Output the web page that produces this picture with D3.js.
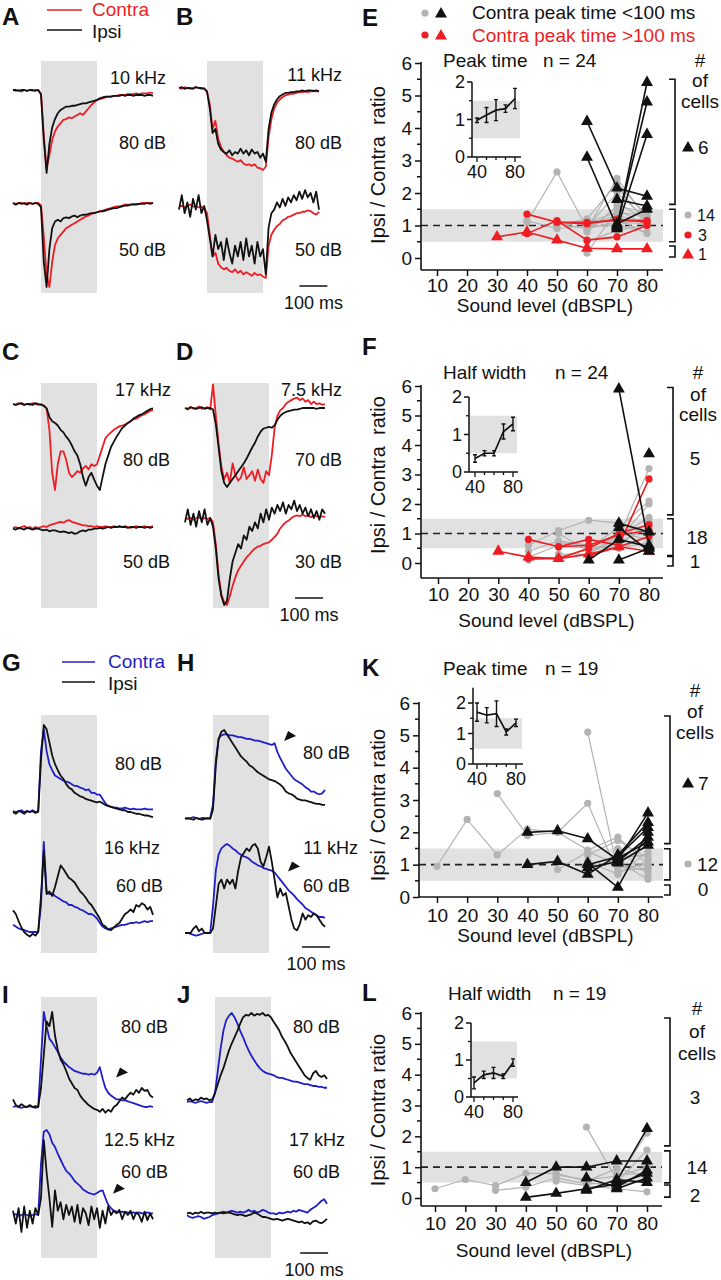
<!DOCTYPE html>
<html><head><meta charset="utf-8">
<script src="https://cdnjs.cloudflare.com/ajax/libs/d3/7.8.5/d3.min.js"></script>
<style>body{margin:0;background:#fff}svg{display:block}text{font-family:"Liberation Sans",Arial,sans-serif;fill:#111}</style>
</head><body><script>
// ---------- TRACE DATA (normalized deflection, 10 ms samples from -100 ms to 400 ms) ----------
const A80_contra=[0,0.01,0,0.02,0,0.01,0,0.01,0,0, 0.05,0.55,0.95,0.78,0.6,0.5,0.44,0.4,0.36,0.35,0.33,0.34,0.32,0.3,0.28,0.3,0.26,0.22,0.18,0.15,0.12,0.11,0.1,0.09,0.08,0.08,0.07,0.07,0.06,0.06,0.06,0.05,0.05,0.05,0.04,0.05,0.04,0.04,0.04,0.03,0.04];
const A80_ipsi=[0,0,0.01,0,0,0.01,0,0,0.01,0, 0.05,0.6,1.0,0.65,0.45,0.35,0.28,0.24,0.22,0.2,0.2,0.19,0.19,0.18,0.17,0.16,0.16,0.15,0.14,0.13,0.12,0.1,0.09,0.08,0.08,0.08,0.07,0.07,0.07,0.06,0.07,0.06,0.06,0.07,0.06,0.06,0.06,0.07,0.06,0.06,0.07];
const A50_contra=[0,0.01,0,0,0.01,0,0,0.01,0,0, 0.03,0.4,0.85,1.0,0.7,0.5,0.42,0.38,0.34,0.3,0.28,0.26,0.24,0.22,0.2,0.18,0.16,0.15,0.13,0.12,0.11,0.1,0.09,0.08,0.07,0.06,0.05,0.04,0.04,0.03,0.02,0.02,0.02,0.01,0.01,0.01,0,0,0,0,0];
const A50_ipsi=[0,0.02,0,0.01,0,0.02,0,0.01,0,0.01, 0.05,0.7,1.0,0.55,0.3,0.22,0.2,0.22,0.18,0.17,0.18,0.16,0.15,0.17,0.15,0.14,0.14,0.13,0.12,0.12,0.11,0.1,0.1,0.09,0.08,0.07,0.06,0.06,0.05,0.04,0.03,0.03,0.02,0.02,0.02,0.01,0.01,0.01,0,0.01,0];
const B80_contra=[0,0.01,-0.01,0,0.01,0,-0.01,0,0.01,0, 0.05,0.2,0.5,0.4,0.62,0.72,0.78,0.82,0.85,0.86,0.88,0.9,0.88,0.92,0.94,0.93,0.95,0.93,0.97,0.98,1.0,0.96,0.6,0.38,0.25,0.18,0.14,0.11,0.09,0.08,0.07,0.07,0.06,0.05,0.05,0.04,0.05,0.04,0.03,0.04,0.04];
const B80_ipsi=[0,-0.01,0.01,0,0,0.01,-0.01,0,0,0.01, 0.04,0.25,0.55,0.5,0.68,0.75,0.78,0.8,0.76,0.82,0.78,0.8,0.74,0.8,0.76,0.82,0.75,0.8,0.78,0.85,0.8,0.9,0.5,0.3,0.2,0.14,0.1,0.08,0.06,0.06,0.05,0.05,0.04,0.04,0.03,0.04,0.03,0.03,0.04,0.03,0.04];
const B50_contra=[0,0,0.02,0,-0.02,0.01,0,0.02,0.01,0.03, 0.1,0.4,0.7,0.65,0.8,0.85,0.88,0.86,0.9,0.92,0.88,0.93,0.9,0.95,0.92,0.94,0.97,0.93,0.96,0.95,0.98,1.0,0.55,0.4,0.33,0.28,0.25,0.2,0.18,0.15,0.14,0.12,0.1,0.1,0.08,0.08,0.06,0.07,0.1,0.12,0.08];
const B50_ipsi=[0.05,-0.15,0.1,-0.05,0.15,-0.1,0.05,-0.15,0.1,0, 0.2,0.45,0.7,0.4,0.6,0.5,0.75,0.45,0.65,0.8,0.55,0.7,0.5,0.75,0.45,0.7,0.55,0.8,0.5,0.7,0.6,0.95,0.3,0.1,0.05,-0.05,0.02,-0.1,0,-0.12,-0.05,-0.15,-0.08,-0.2,-0.1,-0.22,-0.12,-0.18,-0.05,-0.2,0.05];
const C80_contra=[0,0.01,-0.01,0,0.01,0,0.01,-0.01,0,0.01, 0,0.02,0.05,0.3,0.8,1.0,0.7,0.55,0.55,0.65,0.8,0.85,0.82,0.78,0.8,0.75,0.72,0.76,0.7,0.72,0.7,0.6,0.5,0.4,0.36,0.33,0.3,0.28,0.26,0.25,0.24,0.22,0.2,0.18,0.17,0.15,0.13,0.12,0.1,0.08,0.07];
const C80_ipsi=[0,0.01,0,-0.01,0.01,0,0,0.01,-0.01,0, 0.01,0.02,0.05,0.15,0.2,0.22,0.25,0.3,0.33,0.38,0.42,0.48,0.55,0.6,0.7,0.85,0.95,0.85,0.8,0.88,0.95,1.0,0.85,0.7,0.6,0.5,0.44,0.38,0.33,0.28,0.25,0.22,0.2,0.17,0.15,0.13,0.12,0.1,0.08,0.06,0.05];
const C50_contra=[0.01,0,0.02,0,-0.01,0.01,0,0.02,0,0.01, 0,-0.01,0,-0.02,-0.03,-0.04,-0.05,-0.06,-0.05,-0.07,-0.08,-0.06,-0.05,-0.04,-0.03,-0.02,-0.02,-0.01,-0.01,0,-0.01,0,0,-0.01,0,0,-0.01,0,0,0,-0.01,0,0.01,0,-0.01,0,0,-0.01,0,0,-0.01];
const C50_ipsi=[0.02,0.03,0.01,0.02,0.03,0.01,0.02,0.03,0.02,0.02, 0.03,0.04,0.03,0.05,0.04,0.04,0.05,0.06,0.05,0.06,0.07,0.06,0.08,0.07,0.05,0.04,0.05,0.03,0.03,0.02,0.02,0.01,0.02,0.01,0,0.01,0,0,-0.01,0,0,0.01,0,0,0.01,0,0,0.01,0,0.01,0];
const D70_contra=[0,0.02,-0.01,0.01,0,-0.02,0.01,0,-0.01,0.02, -0.3,0.1,0.45,0.75,0.9,0.82,0.95,0.7,0.85,0.92,0.88,0.75,0.9,0.85,0.8,0.92,0.78,0.9,0.95,0.8,0.85,0.6,0.25,0.1,0.03,0,-0.05,-0.08,-0.1,-0.12,-0.13,-0.1,-0.12,-0.08,-0.1,-0.05,-0.08,-0.05,-0.06,-0.04,-0.05];
const D70_ipsi=[0,0.01,-0.01,0,0.01,0,-0.01,0.01,0,0, 0.02,0.2,0.5,0.8,0.95,1.0,0.95,0.9,0.85,0.8,0.75,0.7,0.64,0.57,0.5,0.44,0.36,0.3,0.26,0.25,0.24,0.25,0.22,0.15,0.1,0.07,0.05,0.04,0.03,0.02,0.02,0.01,0,0,0,0,0,0.01,0,0,0];
const D30_contra=[0,0.01,0,0.02,0,-0.01,0.01,0,0.01,0, 0.05,0.3,0.65,0.88,0.97,1.0,0.9,0.78,0.68,0.6,0.55,0.5,0.45,0.42,0.38,0.35,0.33,0.32,0.3,0.29,0.28,0.25,0.22,0.18,0.12,0.08,0.05,0.03,0,-0.02,-0.03,-0.02,-0.04,-0.02,-0.03,-0.01,-0.03,-0.02,-0.01,-0.02,-0.01];
const D30_ipsi=[0.05,-0.1,0.08,-0.05,0.1,-0.08,0.05,-0.1,0.08,0, 0.1,0.35,0.7,0.9,1.0,0.95,0.7,0.5,0.4,0.3,0.35,0.2,0.25,0.1,0.15,0.05,0.12,-0.05,0.05,-0.1,0.02,-0.12,-0.05,-0.15,-0.08,-0.18,-0.05,-0.15,-0.1,-0.2,-0.08,-0.15,-0.05,-0.12,-0.02,-0.1,0,-0.08,0.02,-0.1,-0.05];
const G80_contra=[0.01,0,0.01,0.02,0,0.01,0,0.02,0,0.01, 0.7,0.95,0.7,0.55,0.48,0.42,0.4,0.38,0.36,0.35,0.34,0.32,0.3,0.3,0.28,0.27,0.25,0.26,0.22,0.22,0.2,0.2,0.15,0.1,0.07,0.06,0.05,0.05,0.04,0.04,0.05,0.04,0.03,0.04,0.03,0.03,0.03,0.04,0.03,0.03,0.03];
const G80_ipsi=[0,-0.02,0.01,0,-0.02,0.01,0,0.01,-0.01,0, 0.6,1.0,0.95,0.8,0.65,0.55,0.48,0.42,0.38,0.32,0.28,0.26,0.22,0.2,0.18,0.17,0.15,0.14,0.13,0.12,0.11,0.12,0.1,0.08,0.07,0.06,0.05,0.04,0.03,0.02,0.02,0,0,-0.01,-0.02,-0.02,-0.03,-0.04,-0.04,-0.05,-0.06];
const G60_contra=[0.08,0.06,0.04,0.03,0.02,0.01,0,0,0,0, 0.3,1.0,0.45,0.42,0.43,0.4,0.38,0.36,0.34,0.33,0.3,0.3,0.28,0.27,0.25,0.24,0.22,0.2,0.2,0.18,0.15,0.1,0.06,0.04,0.03,0.04,0.05,0.06,0.07,0.08,0.08,0.09,0.1,0.1,0.11,0.1,0.11,0.12,0.11,0.12,0.12];
const G60_ipsi=[0.24,0.2,0.12,0.05,0,-0.03,-0.05,-0.02,-0.04,0, 0.4,0.9,0.42,0.45,0.4,0.5,0.62,0.74,0.7,0.65,0.6,0.58,0.55,0.5,0.45,0.42,0.38,0.33,0.3,0.25,0.2,0.15,0.08,0.06,0.03,0.02,0.05,0.08,0.1,0.15,0.2,0.22,0.25,0.22,0.3,0.28,0.32,0.3,0.25,0.28,0.19];
const H80_contra=[0,-0.01,0,0.01,0,-0.01,0,0,-0.01,0, 0.15,0.65,0.9,0.94,0.95,0.95,0.94,0.94,0.93,0.92,0.92,0.91,0.9,0.9,0.89,0.88,0.88,0.87,0.86,0.85,0.84,0.83,0.85,0.75,0.68,0.62,0.56,0.52,0.48,0.44,0.42,0.4,0.38,0.35,0.33,0.3,0.3,0.28,0.27,0.28,0.32];
const H80_ipsi=[-0.01,0,-0.01,-0.02,0,-0.01,-0.02,-0.01,0,-0.01, 0.1,0.6,0.9,0.98,1.0,0.95,0.9,0.85,0.8,0.75,0.7,0.67,0.64,0.6,0.58,0.55,0.52,0.5,0.48,0.46,0.44,0.43,0.42,0.4,0.38,0.35,0.3,0.28,0.27,0.25,0.22,0.21,0.2,0.2,0.19,0.18,0.17,0.16,0.16,0.15,0.15];
const H60_contra=[0,0,-0.01,-0.02,-0.03,-0.02,-0.01,0,0,0, 0.3,0.7,0.88,0.95,0.98,1.0,0.98,0.95,0.93,0.9,0.88,0.86,0.85,0.83,0.8,0.78,0.76,0.75,0.73,0.72,0.71,0.7,0.68,0.64,0.6,0.56,0.52,0.48,0.45,0.42,0.38,0.35,0.32,0.28,0.26,0.24,0.22,0.2,0.18,0.18,0.17];
const H60_ipsi=[0,0,0,0.05,0.08,0.02,0.05,0,0,0, 0.05,0.3,0.55,0.6,0.5,0.6,0.55,0.6,0.5,0.7,0.85,0.9,0.95,0.92,0.98,1.0,0.95,0.8,0.75,0.85,0.97,0.8,0.6,0.4,0.5,0.42,0.45,0.3,0.15,0.05,0.03,0.1,0.22,0.15,0.2,0.18,0.22,0.2,0.15,0.1,0.07];
const I80_contra=[0,0.01,0,-0.01,0,0,0.01,0,-0.01,0, 0.5,1.0,0.85,0.72,0.68,0.63,0.58,0.52,0.48,0.45,0.42,0.4,0.38,0.37,0.36,0.35,0.35,0.34,0.35,0.34,0.36,0.42,0.3,0.2,0.15,0.12,0.1,0.08,0.08,0.07,0.07,0.06,0.05,0.04,0.03,0.02,0.01,0,0,0.01,0];
const I80_ipsi=[0.08,0.02,0,0.03,0.01,0,0.02,0,0.01,0, 0.2,0.55,0.9,0.85,1.0,0.75,0.6,0.5,0.45,0.38,0.3,0.25,0.2,0.18,0.12,0.08,0.05,0.02,0,-0.02,-0.03,-0.05,-0.02,-0.06,-0.03,-0.05,0,0.02,0.06,0.1,0.08,0.12,0.15,0.13,0.18,0.15,0.2,0.17,0.18,0.12,0.1];
const I60_contra=[0,0.01,-0.01,0,0.01,0,-0.01,0,0.01,0, 0.6,0.98,1.0,0.95,0.85,0.8,0.72,0.65,0.58,0.52,0.49,0.45,0.4,0.37,0.34,0.3,0.28,0.26,0.25,0.24,0.26,0.28,0.29,0.2,0.12,0.08,0.05,0.04,0.03,0.04,0.03,0.03,0.02,0.03,0.02,0.03,0.02,0.02,0.03,0.02,0.02];
const I60_ipsi=[0.05,-0.1,0.08,-0.2,0.1,-0.15,0.05,-0.1,0.08,0, 0.2,0.88,0.5,0.2,-0.14,0.29,0.05,0.15,-0.05,0.12,0,0.1,-0.08,0.12,-0.1,0.08,0.02,-0.12,0.1,-0.05,0.08,-0.15,0.05,-0.1,0.1,0,0.05,0.02,0.06,-0.05,0.04,0,0.05,-0.05,0.03,0,-0.08,0.04,-0.06,0.02,-0.05];
const J80_contra=[0,0.01,0,-0.01,0,0.01,0,-0.01,0,0, 0.1,0.35,0.6,0.8,0.92,0.97,1.0,0.95,0.88,0.8,0.73,0.65,0.58,0.52,0.47,0.42,0.38,0.35,0.33,0.32,0.31,0.3,0.28,0.27,0.27,0.26,0.25,0.24,0.23,0.23,0.22,0.21,0.2,0.2,0.19,0.18,0.18,0.17,0.17,0.16,0.16];
const J80_ipsi=[0.02,0.04,0.01,0.03,0.02,0.05,0.03,0.04,0.02,0.03, 0.1,0.2,0.3,0.38,0.48,0.58,0.66,0.73,0.8,0.88,0.95,0.98,0.97,1.0,0.97,0.99,0.98,1.0,0.97,0.98,0.95,0.9,0.85,0.8,0.73,0.68,0.62,0.55,0.5,0.45,0.4,0.35,0.3,0.27,0.25,0.32,0.35,0.3,0.28,0.3,0.26];
const J60_contra=[0.02,0,-0.01,0,0.01,0,-0.02,-0.01,0,0.02, 0.03,0.04,0.05,0.06,0.05,0.06,0.07,0.06,0.05,0.06,0.05,0.06,0.08,0.06,0.07,0.05,0.06,0.08,0.07,0.05,0.04,0.04,0.03,0.05,0.04,0.05,0.06,0.05,0.07,0.06,0.08,0.07,0.06,0.05,0.08,0.1,0.12,0.15,0.18,0.2,0.15];
const J60_ipsi=[0.04,0.05,0.03,0.05,0.04,0.06,0.04,0.05,0.05,0.04, 0.05,0.04,0.05,0.04,0.05,0.05,0.04,0.03,0.02,0.03,0.02,0.01,0.02,0.03,0.05,0.04,0.02,0,0,-0.01,-0.02,-0.03,-0.02,-0.03,-0.04,-0.03,-0.02,-0.03,-0.04,-0.05,-0.06,-0.05,-0.07,-0.06,-0.08,-0.05,-0.04,-0.06,-0.07,-0.05,-0.02];

// ---------- POPULATION DATA (Ipsi/Contra ratio per sound level) ----------
const N=null;
const levels=[10,20,30,40,50,60,70,80];
const yTicks=[0,1,2,3,4,5,6];
const E_gray=[[N,N,N,1.1,2.65,0.9,2.45,1.2],[N,N,N,1.15,0.9,1.0,1.0,0.8],[N,N,N,N,1.0,1.2,2.3,1.3],[N,N,N,N,N,0.15,1.5,1.0],[N,N,N,N,N,0.95,2.0,1.2],[N,N,N,N,N,1.05,1.3,1.1],[N,N,N,N,N,0.8,1.6,1.4],[N,N,N,N,N,1.2,1.0,1.25],[N,N,N,N,N,N,1.7,1.15],[N,N,N,N,N,0.5,0.85,1.0],[N,N,N,N,N,N,1.2,0.75],[N,N,N,N,1.05,0.9,1.1,1.05],[N,N,N,N,N,1.1,1.4,1.3],[N,N,N,N,N,N,2.2,1.05]];
const E_redCirc=[[N,N,N,1.35,1.1,1.1,1.15,1.15],[N,N,N,0.75,1.15,0.55,0.65,1.0],[N,N,N,N,1.1,1.05,1.2,1.1]];
const E_redTri=[[N,N,0.65,0.8,0.55,0.3,0.28,0.28]];
const E_blackTri=[[N,N,N,N,N,4.2,2.15,1.9],[N,N,N,N,N,3.1,0.95,5.4],[N,N,N,N,N,N,1.0,4.8],[N,N,N,N,N,N,0.9,3.8],[N,N,N,N,N,N,1.8,1.6],[N,N,N,N,N,N,1.05,1.5]];
const F_gray=[[N,N,N,0.6,1.1,1.45,1.35,1.0],[N,N,N,0.4,0.75,0.6,0.9,3.2],[N,N,N,0.2,0.6,0.5,1.2,2.1],[N,N,N,N,1.0,0.4,0.8,2.0],[N,N,N,N,0.3,0.3,0.9,1.55],[N,N,N,N,N,0.5,0.6,1.4],[N,N,N,0.1,0.2,0.45,0.5,0.9],[N,N,N,N,N,0.4,0.7,1.2],[N,N,N,N,N,0.3,1.0,0.8],[N,N,N,N,0.7,0.55,0.5,0.7]];
const F_redCirc=[[N,N,N,0.8,0.55,0.8,0.6,2.85],[N,N,N,0.15,0.15,0.5,1.0,1.3],[N,N,N,N,0.55,0.6,0.95,1.1],[N,N,N,N,N,0.25,0.55,0.9]];
const F_redTri=[[N,N,0.4,0.2,0.15,0.3,0.55,0.4]];
const F_blackTri=[[N,N,N,N,N,N,5.9,0.6],[N,N,N,N,N,0.1,0.8,0.55],[N,N,N,N,N,N,0.1,0.5],[N,N,N,N,N,N,1.35,1.05],[N,N,N,N,N,N,1.2,0.4],[N,N,N,N,N,N,N,3.7]];
const K_gray=[[0.95,2.4,1.3,2.1,2.0,1.45,1.85,1.0],[N,N,3.2,1.9,2.0,2.9,0.75,1.1],[N,N,N,N,N,5.1,0.8,0.9],[N,N,N,N,0.85,1.4,1.0,0.8],[N,N,N,N,N,1.3,1.75,1.2],[N,N,N,N,N,0.9,1.1,0.55],[N,N,N,N,N,1.1,0.7,1.4],[N,N,N,N,N,0.75,1.2,1.3],[N,N,N,N,N,N,0.9,1.0],[N,N,N,N,N,N,1.5,0.7]];
const K_blackTri=[[N,N,N,2.0,2.05,1.8,1.15,2.6],[N,N,N,1.0,1.1,0.7,1.3,2.3],[N,N,N,N,N,1.05,0.3,2.0],[N,N,N,N,N,0.9,1.1,1.85],[N,N,N,N,N,N,1.2,1.7],[N,N,N,N,N,N,1.05,1.6],[N,N,N,N,N,1.0,1.25,2.15]];
const L_gray=[[0.3,0.6,0.4,0.8,0.8,0.55,0.95,0.7],[N,N,0.25,0.35,0.65,0.45,0.5,1.55],[N,N,N,N,N,2.3,0.6,2.1],[N,N,N,N,0.55,0.4,0.3,0.2],[N,N,N,N,0.75,0.6,0.7,1.0],[N,N,N,N,N,0.5,0.4,0.6],[N,N,N,N,N,N,0.75,0.8]];
const L_blackTri=[[N,N,N,0.5,1.0,1.0,1.2,1.2],[N,N,N,0.02,0.15,0.3,0.45,0.8],[N,N,N,N,N,0.65,0.35,0.9],[N,N,N,N,N,0.25,0.6,0.5],[N,N,N,N,N,N,0.3,0.65],[N,N,N,N,N,N,0.55,2.25]];
// inset means ± SEM
const insetLevels=[40,50,60,70,80];
const E_insetMean=[0.98,1.12,1.25,1.29,1.56], E_insetErr=[0.06,0.2,0.28,0.1,0.27];
const F_insetMean=[0.36,0.5,0.5,1.08,1.28], F_insetErr=[0.1,0.07,0.07,0.2,0.18];
const K_insetMean=[1.7,1.6,1.65,1.05,1.35], K_insetErr=[0.3,0.25,0.42,0.1,0.12];
const L_insetMean=[0.38,0.6,0.65,0.56,0.93], L_insetErr=[0.16,0.1,0.15,0.06,0.1];

// ---------- DRAWING ----------
const RED="#ee1d23", BLUE="#1f1fc8", GRAY="#b3b3b3", BAND="#e1e1e1", T0=-100, DT=10;
const svg=d3.select("body").append("svg").attr("width",721).attr("height",1280);

function txt(x,y,s,o={}){
  const t=svg.append("text").attr("x",x).attr("y",y).attr("dy","0.35em").text(s)
    .attr("font-size",o.size||18).attr("text-anchor",o.anchor||"start").style("white-space","pre");
  if(o.color) t.style("fill",o.color);
  if(o.bold) t.attr("font-weight","bold");
  return t;
}
function letter(x,y,s){txt(x,y,s,{size:24,bold:true});}

function tracePanel(c){
  const x=d3.scaleLinear().domain([0,200]).range([c.boxX,c.boxX+56]);
  svg.append("rect").attr("x",x(0)).attr("y",c.boxTop).attr("width",x(200)-x(0)).attr("height",c.boxBottom-c.boxTop).attr("fill",BAND);
  c.rows.forEach(r=>{
    const y=d3.scaleLinear().domain([0,1]).range([r.base,r.peak]);
    const line=d3.line().x((d,i)=>x(T0+i*DT)).y(d=>y(d));
    r.traces.forEach(tr=>svg.append("path").attr("d",line(tr[0])).attr("fill","none").attr("stroke",tr[1]).attr("stroke-width",1.8).attr("stroke-linejoin","round"));
    (r.arrows||[]).forEach(a=>{
      const ax=x(a[0]), ay=y(a[1]);
      svg.append("path").attr("d",`M${ax},${ay}L${ax+4},${ay-10}L${ax+12},${ay-5}Z`).attr("fill","#111");
    });
  });
  if(c.bar){
    svg.append("line").attr("x1",x(c.bar.t)).attr("x2",x(c.bar.t+100)).attr("y1",c.bar.y).attr("y2",c.bar.y).attr("stroke","#111").attr("stroke-width",1.5);
    txt((x(c.bar.t)+x(c.bar.t+100))/2,c.bar.y+17,"100 ms",{anchor:"middle"});
  }
  c.labels.forEach(l=>txt(l[0],l[1],l[2],{anchor:"end"}));
}

function symbol(g,type,color,px,py){
  if(type==="tri") g.append("path").attr("d",d3.symbol(d3.symbolTriangle,62)()).attr("transform",`translate(${px},${py})`).attr("fill",color);
  else g.append("circle").attr("cx",px).attr("cy",py).attr("r",3.6).attr("fill",color);
}

function scatterPanel(c){
  const g=svg.append("g");
  const x=d3.scaleLinear().domain([10,80]).range([c.x10,c.x80]);
  const y=d3.scaleLinear().domain([0,6]).range([c.y0,c.y6]);
  g.append("rect").attr("x",c.axisX+1).attr("y",y(1.5)).attr("width",c.xEnd-c.axisX-1).attr("height",y(0.5)-y(1.5)).attr("fill",BAND);
  g.append("line").attr("x1",c.axisX).attr("x2",c.xEnd).attr("y1",y(1)).attr("y2",y(1)).attr("stroke","#222").attr("stroke-width",1.6).attr("stroke-dasharray","7,5");
  const line=d3.line().x(d=>x(d[0])).y(d=>y(d[1]));
  c.series.forEach(s=>{
    const rows=s.data.map(r=>r.map((v,i)=>[levels[i],v]).filter(p=>p[1]!==null));
    rows.forEach(p=>g.append("path").attr("d",line(p)).attr("fill","none").attr("stroke",s.color).attr("stroke-width",s.lw));
    rows.forEach(p=>p.forEach(d=>symbol(g,s.sym,s.color,x(d[0]),y(d[1]))));
  });
  // axes
  const ya=g.append("g").attr("transform",`translate(${c.axisX},0)`)
    .call(d3.axisLeft(y).tickValues(yTicks).tickFormat(d3.format("d")).tickSize(6).tickPadding(3).tickSizeOuter(0));
  ya.select(".domain").remove();
  [0.5,1.5,2.5,3.5,4.5,5.5].forEach(v=>g.append("line").attr("x1",c.axisX-4).attr("x2",c.axisX).attr("y1",y(v)).attr("y2",y(v)).attr("stroke","#111").attr("stroke-width",1.5));
  g.append("line").attr("x1",c.axisX).attr("x2",c.axisX).attr("y1",y(6)-1).attr("y2",c.xAxisY).attr("stroke","#111").attr("stroke-width",1.6);
  const xa=g.append("g").attr("transform",`translate(0,${c.xAxisY})`)
    .call(d3.axisBottom(x).tickValues(levels).tickFormat(d3.format("d")).tickSize(6).tickPadding(c.tickPad).tickSizeOuter(0));
  xa.select(".domain").remove();
  g.append("line").attr("x1",c.axisX).attr("x2",c.xEnd).attr("y1",c.xAxisY).attr("y2",c.xAxisY).attr("stroke","#111").attr("stroke-width",1.6);
  [ya,xa].forEach(a=>{a.selectAll("line").attr("stroke","#111").attr("stroke-width",1.5);a.selectAll("text").attr("font-size",19).style("fill","#111").attr("font-family",null);});
  txt((c.x10+c.x80)/2+3,c.titleY,"Sound level (dBSPL)",{anchor:"middle",size:19});
  txt(0,0,c.yTitle,{anchor:"middle",size:20}).attr("transform",`translate(${c.yTitleX},${c.yTitleY}) rotate(-90)`);
  c.head.forEach(h=>txt(h[0],h[1],h[2],{size:19}));
  // inset
  const n=c.inset, ix=d3.scaleLinear().domain([40,80]).range([n.x40,n.x80]), iy=d3.scaleLinear().domain([0,2]).range([n.y0,n.y2]);
  g.append("rect").attr("x",n.axisX).attr("y",iy(1.5)).attr("width",n.bandEnd-n.axisX).attr("height",iy(0.5)-iy(1.5)).attr("fill",BAND);
  g.append("line").attr("x1",n.axisX).attr("x2",n.axisX).attr("y1",iy(n.top)).attr("y2",iy(0)).attr("stroke","#111").attr("stroke-width",1.5);
  g.append("line").attr("x1",n.axisX).attr("x2",n.bandEnd+1).attr("y1",iy(0)).attr("y2",iy(0)).attr("stroke","#111").attr("stroke-width",1.5);
  [0,1,2].forEach(v=>{g.append("line").attr("x1",n.axisX-5).attr("x2",n.axisX).attr("y1",iy(v)).attr("y2",iy(v)).attr("stroke","#111").attr("stroke-width",1.5);
    txt(n.axisX-7,iy(v),String(v),{anchor:"end",size:18});});
  [0.5,1.5].forEach(v=>g.append("line").attr("x1",n.axisX-3).attr("x2",n.axisX).attr("y1",iy(v)).attr("y2",iy(v)).attr("stroke","#111").attr("stroke-width",1.3));
  insetLevels.forEach(v=>g.append("line").attr("x1",ix(v)).attr("x2",ix(v)).attr("y1",iy(0)).attr("y2",iy(0)+(v%40===0?5:3)).attr("stroke","#111").attr("stroke-width",1.3));
  [40,80].forEach(v=>txt(ix(v),iy(0)+15,String(v),{anchor:"middle",size:18}));
  const mp=insetLevels.map((v,i)=>[v,n.mean[i]]);
  g.append("path").attr("d",d3.line().x(d=>ix(d[0])).y(d=>iy(d[1]))(mp)).attr("fill","none").attr("stroke","#111").attr("stroke-width",1.7);
  mp.forEach((d,i)=>{const e=n.err[i];
    g.append("path").attr("d",`M${ix(d[0])},${iy(d[1]-e)}V${iy(d[1]+e)}M${ix(d[0])-2},${iy(d[1]-e)}h4M${ix(d[0])-2},${iy(d[1]+e)}h4`).attr("stroke","#111").attr("stroke-width",1.4).attr("fill","none");});
  // brackets
  c.brackets.forEach(b=>g.append("path").attr("d",`M${c.bx-6},${y(b[1])}H${c.bx}V${y(b[0])}H${c.bx-6}`).attr("fill","none").attr("stroke","#111").attr("stroke-width",1.6));
  c.right.forEach(r=>{ if(r.sym) symbol(g,r.sym,r.color,r.x,r.y); else txt(r.x,r.y,r.t,{anchor:r.a||"middle",size:r.s||19}); });
}

// ----- trace panels -----
letter(2,17,"A"); letter(176,17,"B"); letter(2,352,"C"); letter(176,352,"D");
letter(2,663,"G"); letter(177,663,"H"); letter(2,995,"I"); letter(177,995,"J");
svg.append("line").attr("x1",47).attr("x2",82).attr("y1",10).attr("y2",10).attr("stroke",RED).attr("stroke-width",1.7);
txt(92,9,"Contra",{color:RED,size:19});
svg.append("line").attr("x1",47).attr("x2",82).attr("y1",30).attr("y2",30).attr("stroke","#111").attr("stroke-width",1.7);
txt(92,31,"Ipsi",{size:19});
svg.append("line").attr("x1",62).attr("x2",95).attr("y1",662).attr("y2",662).attr("stroke",BLUE).attr("stroke-width",1.7);
txt(108,661,"Contra",{color:BLUE,size:19});
svg.append("line").attr("x1",62).attr("x2",95).attr("y1",682).attr("y2",682).attr("stroke","#111").attr("stroke-width",1.7);
txt(108,683,"Ipsi",{size:19});

tracePanel({boxX:41,boxTop:61,boxBottom:293,rows:[{base:90,peak:173,traces:[[A80_contra,RED],[A80_ipsi,"#111"]]},{base:203,peak:287,traces:[[A50_contra,RED],[A50_ipsi,"#111"]]}],
  labels:[[166,78,"10 kHz"],[166,143,"80 dB"],[166,250,"50 dB"]]});
tracePanel({boxX:207,boxTop:61,boxBottom:293,rows:[{base:88,peak:170,traces:[[B80_contra,RED],[B80_ipsi,"#111"]]},{base:206,peak:278,traces:[[B50_contra,RED],[B50_ipsi,"#111"]]}],
  labels:[[342,75,"11 kHz"],[342,143,"80 dB"],[342,250,"50 dB"]],bar:{t:330,y:286}});
tracePanel({boxX:41,boxTop:383,boxBottom:608,rows:[{base:404,peak:490,traces:[[C80_contra,RED],[C80_ipsi,"#111"]]},{base:527,peak:613,traces:[[C50_contra,RED],[C50_ipsi,"#111"]]}],
  labels:[[171,390,"17 kHz"],[170,460,"80 dB"],[170,562,"50 dB"]]});
tracePanel({boxX:213,boxTop:383,boxBottom:608,rows:[{base:408,peak:487,traces:[[D70_contra,RED],[D70_ipsi,"#111"]]},{base:518,peak:605,traces:[[D30_contra,RED],[D30_ipsi,"#111"]]}],
  labels:[[342,390,"7.5 kHz"],[342,460,"70 dB"],[342,562,"30 dB"]],bar:{t:293,y:598}});
tracePanel({boxX:41,boxTop:715,boxBottom:953,rows:[{base:812,peak:725,traces:[[G80_contra,BLUE],[G80_ipsi,"#111"]]},{base:932,peak:842,traces:[[G60_contra,BLUE],[G60_ipsi,"#111"]]}],
  labels:[[162,764,"80 dB"],[160,848,"16 kHz"],[163,886,"60 dB"]]});
tracePanel({boxX:213,boxTop:715,boxBottom:953,rows:[{base:818,peak:730,traces:[[H80_contra,BLUE],[H80_ipsi,"#111"]],arrows:[[254,0.875]]},{base:933,peak:844,traces:[[H60_contra,BLUE],[H60_ipsi,"#111"]],arrows:[[268,0.69]]}],
  labels:[[350,753,"80 dB"],[358,848,"11 kHz"],[350,886,"60 dB"]],bar:{t:318,y:947}});
tracePanel({boxX:41,boxTop:997,boxBottom:1258,rows:[{base:1107,peak:1012,traces:[[I80_contra,BLUE],[I80_ipsi,"#111"]],arrows:[[268,0.31]]},{base:1215,peak:1130,traces:[[I60_contra,BLUE],[I60_ipsi,"#111"]],arrows:[[257,0.25]]}],
  labels:[[168,1027,"80 dB"],[175,1140,"12.5 kHz"],[168,1172,"60 dB"]]});
tracePanel({boxX:215,boxTop:997,boxBottom:1258,rows:[{base:1102,peak:1013,traces:[[J80_contra,BLUE],[J80_ipsi,"#111"]]},{base:1217,peak:1128,traces:[[J60_contra,BLUE],[J60_ipsi,"#111"]]}],
  labels:[[340,1027,"80 dB"],[345,1140,"17 kHz"],[340,1172,"60 dB"]],bar:{t:304,y:1253}});

// ----- population panels -----
letter(362,18,"E"); letter(362,347,"F"); letter(362,668,"K"); letter(362,993,"L");
symbol(svg,"circ",GRAY,425,13); symbol(svg,"tri","#111",441,14); txt(472,12,"Contra peak time <100 ms",{size:19});
symbol(svg,"circ",RED,425,35); symbol(svg,"tri",RED,441,36); txt(472,35,"Contra peak time >100 ms",{color:RED,size:19});

const yT1="Ipsi / Contra  ratio", yT2="Ipsi / Contra ratio";
scatterPanel({axisX:421,y6:63,y0:258,xAxisY:270,x10:437,x80:647,xEnd:663,tickPad:3,titleY:305,yTitle:yT1,yTitleX:378,yTitleY:165,
  head:[[443,60,"Peak time"],[543,60,"n = 24"]],
  series:[{data:E_gray,color:GRAY,sym:"circ",lw:1.2},{data:E_redCirc,color:RED,sym:"circ",lw:1.6},{data:E_redTri,color:RED,sym:"tri",lw:1.6},{data:E_blackTri,color:"#111",sym:"tri",lw:1.6}],
  inset:{axisX:472,y0:157,y2:82,top:2,x40:477,x80:515,bandEnd:520,mean:E_insetMean,err:E_insetErr},
  bx:675,brackets:[[1.65,5.5],[0.5,1.5],[0.03,0.37]],
  right:[{t:"#",x:700,y:60},{t:"of",x:700,y:80},{t:"cells",x:700,y:101},{sym:"tri",color:"#111",x:688,y:148},{t:"6",x:698,y:147,a:"start"},
    {sym:"circ",color:GRAY,x:688,y:215},{t:"14",x:697,y:215,a:"start",s:16},{sym:"circ",color:RED,x:688,y:235},{t:"3",x:698,y:235,a:"start",s:16},{sym:"tri",color:RED,x:688,y:255},{t:"1",x:698,y:254,a:"start",s:16}]});
scatterPanel({axisX:421,y6:386,y0:563,xAxisY:578,x10:438,x80:649,xEnd:663,tickPad:4,titleY:620,yTitle:yT1,yTitleX:378,yTitleY:475,
  head:[[443,372,"Half width"],[555,372,"n = 24"]],
  series:[{data:F_gray,color:GRAY,sym:"circ",lw:1.2},{data:F_redCirc,color:RED,sym:"circ",lw:1.6},{data:F_redTri,color:RED,sym:"tri",lw:1.6},{data:F_blackTri,color:"#111",sym:"tri",lw:1.6}],
  inset:{axisX:469,y0:472,y2:397,top:2,x40:475,x80:513,bandEnd:517,mean:F_insetMean,err:F_insetErr},
  bx:673,brackets:[[1.63,5.95],[0.25,1.5],[-0.1,0.22]],
  right:[{t:"#",x:698,y:372},{t:"of",x:698,y:394},{t:"cells",x:698,y:414},{t:"5",x:695,y:458},{t:"18",x:697,y:537},{t:"1",x:695,y:561}]});
scatterPanel({axisX:419,y6:703,y0:897,xAxisY:897,x10:437,x80:648,xEnd:663,tickPad:6,titleY:935,yTitle:yT2,yTitleX:378,yTitleY:805,
  head:[[443,668,"Peak time"],[545,668,"n = 19"]],
  series:[{data:K_gray,color:GRAY,sym:"circ",lw:1.2},{data:K_blackTri,color:"#111",sym:"tri",lw:1.6}],
  inset:{axisX:473,y0:764,y2:703,top:2.5,x40:477,x80:516,bandEnd:522,mean:K_insetMean,err:K_insetErr},
  bx:670,brackets:[[1.65,5.6],[0.53,1.49],[0.06,0.37]],
  right:[{t:"#",x:695,y:690},{t:"of",x:695,y:711},{t:"cells",x:695,y:732},{sym:"tri",color:"#111",x:688,y:784},{t:"7",x:698,y:783,a:"start"},
    {sym:"circ",color:GRAY,x:688,y:864},{t:"12",x:697,y:864,a:"start"},{t:"0",x:703,y:889}]});
scatterPanel({axisX:421,y6:1013,y0:1198,xAxisY:1206,x10:435,x80:647,xEnd:662,tickPad:5,titleY:1250,yTitle:yT2,yTitleX:378,yTitleY:1110,
  head:[[448,993,"Half width"],[553,993,"n = 19"]],
  series:[{data:L_gray,color:GRAY,sym:"circ",lw:1.2},{data:L_blackTri,color:"#111",sym:"tri",lw:1.6}],
  inset:{axisX:471,y0:1097,y2:1023,top:2,x40:474,x80:513,bandEnd:517,mean:L_insetMean,err:L_insetErr},
  bx:670,brackets:[[1.69,5.84],[0.49,1.53],[0.03,0.42]],
  right:[{t:"#",x:697,y:1008},{t:"of",x:697,y:1031},{t:"cells",x:697,y:1053},{t:"3",x:695,y:1097},{t:"14",x:697,y:1167},{t:"2",x:695,y:1195}]});
</script></body></html>
